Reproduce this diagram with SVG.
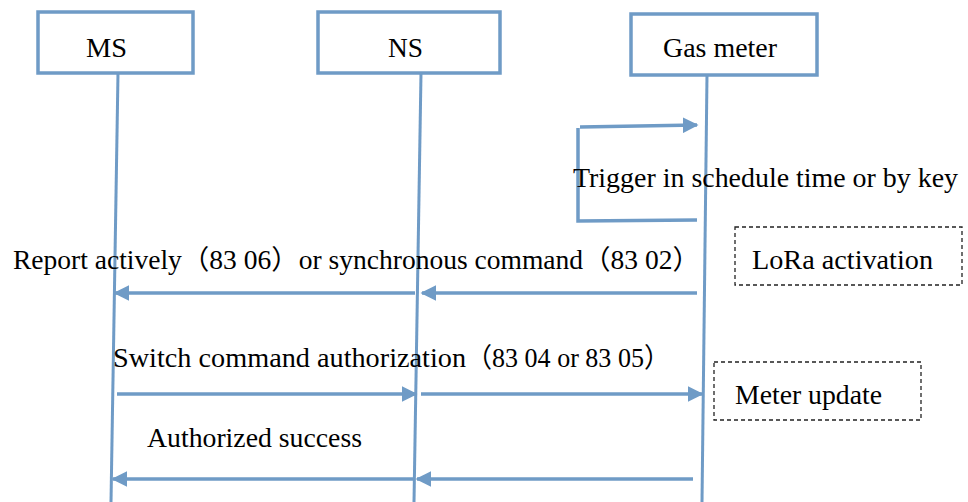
<svg xmlns="http://www.w3.org/2000/svg" width="968" height="502" viewBox="0 0 968 502">
<style>
.box{fill:#fff;stroke:#6f9bc6;stroke-width:3.5}
.life{stroke:#6f9bc6;stroke-width:3;fill:none}
.msg{stroke:#6f9bc6;stroke-width:3.5;fill:none}
.note{fill:#fff;stroke:#222;stroke-width:1.3;stroke-dasharray:4 3}
.t{font-family:'Liberation Serif','Times New Roman','DejaVu Serif','Noto Sans CJK SC',serif;fill:#000;font-size:27px}
</style>
<defs>
<marker id="ah" viewBox="0 0 10 10" refX="9" refY="5" markerWidth="4.5" markerHeight="4.5" orient="auto" markerUnits="strokeWidth">
<path d="M0,0 L10,5 L0,10 z" fill="#6f9bc6"/>
</marker>
</defs>
<rect width="968" height="502" fill="#fff"/>
<g id="ms"><rect class="box" x="38" y="12" width="155" height="61"/><text class="t" x="86" y="57" textLength="41" lengthAdjust="spacingAndGlyphs">MS</text></g>
<g id="ns"><rect class="box" x="318" y="12" width="182" height="61"/><text class="t" x="388" y="57" textLength="35" lengthAdjust="spacingAndGlyphs">NS</text></g>
<g id="gas"><rect class="box" x="631" y="14" width="186" height="61"/><text class="t" x="663" y="57" textLength="114" lengthAdjust="spacingAndGlyphs">Gas meter</text></g>
<g id="lora"><rect class="note" x="735" y="227" width="227" height="58"/><text class="t" x="752" y="269" textLength="181" lengthAdjust="spacingAndGlyphs">LoRa activation</text></g>
<g id="update"><rect class="note" x="714" y="362" width="207" height="58"/><text class="t" x="735" y="404" textLength="147" lengthAdjust="spacingAndGlyphs">Meter update</text></g>
<g id="connectors">
<line class="life" x1="118" y1="73" x2="111" y2="502"/>
<line class="life" x1="421" y1="73" x2="414" y2="502"/>
<line class="life" x1="707" y1="75" x2="702" y2="502"/>
<polyline class="msg" points="697,220 578,221 578,128"/>
<line class="msg" x1="580" y1="127" x2="697" y2="125" marker-end="url(#ah)"/>
<line class="msg" x1="697" y1="293" x2="422" y2="293" marker-end="url(#ah)"/>
<line class="msg" x1="415" y1="293" x2="115" y2="293" marker-end="url(#ah)"/>
<line class="msg" x1="117" y1="394" x2="416" y2="394" marker-end="url(#ah)"/>
<line class="msg" x1="421" y1="394" x2="702" y2="394" marker-end="url(#ah)"/>
<line class="msg" x1="693" y1="479" x2="417" y2="479" marker-end="url(#ah)"/>
<line class="msg" x1="413" y1="479" x2="113" y2="479" marker-end="url(#ah)"/>
</g>
<text class="t" x="573" y="187" textLength="385" lengthAdjust="spacingAndGlyphs">Trigger in schedule time or by key</text>
<text class="t" x="13" y="269" textLength="687" lengthAdjust="spacingAndGlyphs">Report actively（83 06）or synchronous command（83 02）</text>
<text class="t" x="113" y="367" textLength="353" lengthAdjust="spacingAndGlyphs">Switch command authorization</text>
<text class="t" x="466" y="367" font-size="22" textLength="204" lengthAdjust="spacingAndGlyphs">（83 04 or 83 05）</text>
<text class="t" x="147" y="447" textLength="215" lengthAdjust="spacingAndGlyphs">Authorized success</text>
</svg>
